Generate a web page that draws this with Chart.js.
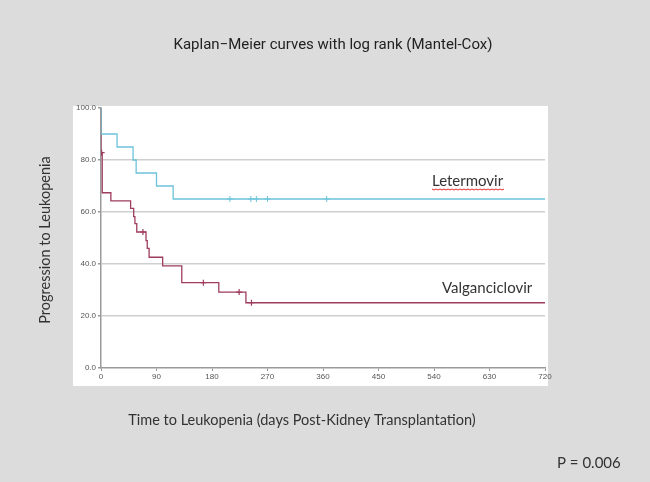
<!DOCTYPE html>
<html>
<head>
<meta charset="utf-8">
<script src="https://cdn.jsdelivr.net/npm/chart.js@4.4.0/dist/chart.umd.min.js"></script>
<style>
  html, body { margin: 0; padding: 0; background: #dcdcdc; }
  #wrap { width: 650px; height: 482px; position: relative; }
</style>
</head>
<body>
<div id="wrap"><canvas id="kmChart" width="650" height="482"></canvas></div>
<script>
// Kaplan-Meier step data (day, % without leukopenia)
const letTimes = [0, 0, 26, 52, 57, 90, 117, 720];
const letSurv = [100, 90, 85, 80, 75, 70, 65, 65];
const letCensorDays = [209, 243, 252, 270, 366];
const letCensorSurv = [65, 65, 65, 65, 65];

const valTimes = [0, 0, 2, 16, 48, 53, 55, 58, 73, 75, 78, 100, 131, 191, 235, 720];
const valSurv = [100, 82.8, 67.4, 64.3, 61.4, 58.2, 55.5, 52.3, 49, 46, 42.6, 39.3, 32.8, 29.2, 25.1, 25.1];
const valCensorDays = [1, 68, 166, 224, 244];
const valCensorSurv = [82.8, 52.3, 32.8, 29.2, 25.1];

const xTicks = [0, 90, 180, 270, 360, 450, 540, 630, 720];
const yTicks = [0, 20, 40, 60, 80, 100];

const blue = "#6cc3da";
const wine = "#9e3d5c";

const toPoints = (xs, ys) => xs.map((x, i) => ({ x: x, y: ys[i] }));

// grey page + white plot panel, then the free text
const pagePlugin = {
  id: "page",
  beforeDraw(chart) {
    const c = chart.ctx;
    c.save();
    c.fillStyle = "#dcdcdc";
    c.fillRect(0, 0, chart.width, chart.height);
    c.fillStyle = "#ffffff";
    c.fillRect(73, 106, 475, 280);
    c.restore();
  },
  afterDraw(chart) {
    const c = chart.ctx;
    c.save();
    c.fillStyle = "#222";
    c.textAlign = "center";
    c.textBaseline = "middle";
    c.font = "15px Roboto";
    c.fillText("Kaplan\u2212Meier curves with log rank (Mantel-Cox)", 333, 45);

    c.fillStyle = "#333";
    c.font = "14.5px Lato";
    c.fillText("Time to Leukopenia (days Post-Kidney Transplantation)", 302, 420);

    c.save();
    c.translate(45, 240);
    c.rotate(-Math.PI / 2);
    c.fillText("Progression to Leukopenia", 0, 0);
    c.restore();

    c.textAlign = "left";
    c.font = "15px Lato";
    c.fillText("Letermovir", 432, 181);
    c.fillText("Valganciclovir", 442, 288);
    c.fillText("P = 0.006", 557, 463);

    // spell-check squiggle under Letermovir
    c.strokeStyle = "#e03030";
    c.lineWidth = 1;
    c.beginPath();
    for (let x = 432; x <= 505; x += 2) {
      const y = 189 + ((x / 2) % 2 === 0 ? 0 : 1);
      if (x === 432) c.moveTo(x, y);
      else c.lineTo(x, y);
    }
    c.stroke();
    c.restore();
  },
};

var ctx = document.getElementById("kmChart");
var kmChart = new Chart(ctx, {
  type: "line",
  data: {
    datasets: [
      {
        label: "Letermovir",
        data: toPoints(letTimes, letSurv),
        borderColor: blue,
        borderWidth: 1.3,
        stepped: "before",
        pointRadius: 0,
        fill: false,
      },
      {
        label: "Valganciclovir",
        data: toPoints(valTimes, valSurv),
        borderColor: wine,
        borderWidth: 1.3,
        stepped: "before",
        pointRadius: 0,
        fill: false,
      },
      {
        label: "Letermovir censored",
        data: toPoints(letCensorDays, letCensorSurv),
        showLine: false,
        pointStyle: "cross",
        pointRadius: 3,
        borderColor: blue,
        borderWidth: 1,
      },
      {
        label: "Valganciclovir censored",
        data: toPoints(valCensorDays, valCensorSurv),
        showLine: false,
        pointStyle: "cross",
        pointRadius: 3,
        borderColor: wine,
        borderWidth: 1.2,
      },
    ],
  },
  options: {
    responsive: false,
    animation: false,
    layout: { padding: { top: 108, right: 105, left: 0, bottom: 0 } },
    plugins: {
      legend: { display: false },
      tooltip: { enabled: false },
    },
    scales: {
      x: {
        type: "linear",
        min: 0,
        max: 720,
        afterBuildTicks: (scale) => {
          scale.ticks = xTicks.map((v) => ({ value: v }));
        },
        afterFit: (scale) => {
          scale.height = 114;
        },
        ticks: {
          padding: 1,
          maxRotation: 0,
          autoSkip: false,
          color: "#555",
          font: { family: "Liberation Sans", size: 8 },
        },
        grid: {
          drawOnChartArea: false,
          tickLength: 3,
          tickColor: "#999",
        },
        border: { color: "#9a9a9a", width: 1.5 },
      },
      y: {
        min: 0,
        max: 100,
        afterBuildTicks: (scale) => {
          scale.ticks = yTicks.map((v) => ({ value: v }));
        },
        afterFit: (scale) => {
          scale.width = 101;
        },
        ticks: {
          padding: 2,
          color: "#555",
          font: { family: "Liberation Sans", size: 8 },
          callback: (value) => value.toFixed(1),
        },
        grid: {
          color: (c) =>
            c.tick && (c.tick.value === 0 || c.tick.value === 100)
              ? "rgba(0,0,0,0)"
              : "#cfcfcf",
          lineWidth: 1.5,
          tickLength: 3,
          tickColor: "#999",
        },
        border: { color: "#9a9a9a", width: 1.5 },
      },
    },
  },
  plugins: [pagePlugin],
});
</script>
</body>
</html>
